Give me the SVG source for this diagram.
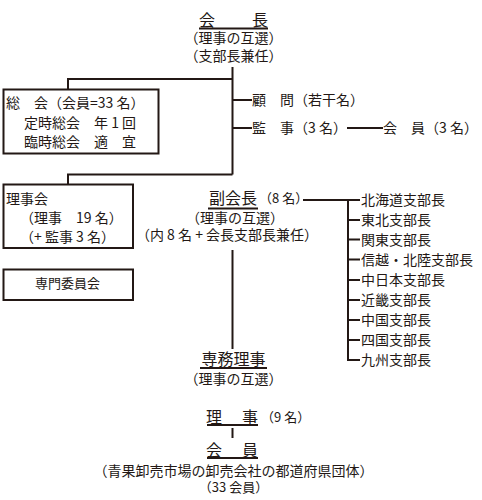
<svg xmlns="http://www.w3.org/2000/svg" width="482" height="500" viewBox="0 0 482 500">
<style>
text{font-family:"Noto Sans CJK JP","Noto Sans",sans-serif;fill:#231815;}
.t13{font-size:13px;}
.t14{font-size:14px;}
.t16{font-size:16px;}
.ln{stroke:#231815;stroke-width:2;fill:none;}
.box{stroke:#231815;stroke-width:2;fill:#fff;}
.mid{text-anchor:middle;}
</style>
<rect width="482" height="500" fill="#fff"/>
<g id="connectors" class="ln">
<path d="M232.5 67V174.5M68 89V79H232.5M232.5 100H252M232.5 128H252M347 128H383M68 184V174.5H232.5"/>
<path d="M232.5 250V349"/>
<path d="M303 200H360M348 200V360H360M348 220H360M348 239.5H360M348 259.5H360M348 280H360M348 300H360M348 320H360M348 340H360"/>
<path d="M232.5 428V438"/>
</g>
<g id="kaicho">
<text class="t16" x="199" y="26">会</text>
<text class="t16" x="252" y="26">長</text>
<path class="ln" d="M199 28.5H268"/>
<text class="t14 mid" x="233.5" y="43">（理事の互選）</text>
<text class="t14 mid" x="233.5" y="61">（支部長兼任）</text>
</g>
<g id="sokai">
<rect class="box" x="3.5" y="89.5" width="155" height="64"/>
<text class="t14" x="6" y="108" xml:space="preserve">総　会（会員=33 名）</text>
<text class="t14" x="24" y="128" xml:space="preserve">定時総会　年 1 回</text>
<text class="t14" x="24" y="147">臨時総会　適　宜</text>
</g>
<g id="komon">
<text class="t14" x="252" y="105">顧　問（若干名）</text>
</g>
<g id="kanji">
<text class="t14" x="252" y="133" xml:space="preserve">監　事（3 名）</text>
</g>
<g id="kaiin-kanji">
<text class="t14" x="383" y="133" xml:space="preserve">会　員（3 名）</text>
</g>
<g id="rijikai">
<rect class="box" x="3.5" y="184.5" width="129.5" height="63.5"/>
<text class="t14" x="6" y="203.5">理事会</text>
<text class="t14" x="20" y="223" xml:space="preserve">（理事　19 名）</text>
<text class="t14" x="20" y="242" xml:space="preserve">（+ 監事 3 名）</text>
</g>
<g id="senmon">
<rect class="box" x="3.5" y="269.5" width="129.5" height="30.5"/>
<text class="t13 mid" x="67.5" y="288">専門委員会</text>
</g>
<g id="fukukaicho">
<text class="t16" x="209" y="204">副会長</text>
<path class="ln" d="M208 208.5H258"/>
<text class="t13" x="259" y="203" xml:space="preserve">（8 名）</text>
<text class="t14 mid" x="235" y="223">（理事の互選）</text>
<text class="t14 mid" x="227" y="240" xml:space="preserve">（内 8 名 + 会長支部長兼任）</text>
</g>
<g id="branches" class="t14">
<text x="361" y="205">北海道支部長</text>
<text x="361" y="225">東北支部長</text>
<text x="361" y="244.5">関東支部長</text>
<text x="361" y="264.5">信越・北陸支部長</text>
<text x="361" y="285">中日本支部長</text>
<text x="361" y="305">近畿支部長</text>
<text x="361" y="325">中国支部長</text>
<text x="361" y="345">四国支部長</text>
<text x="361" y="365">九州支部長</text>
</g>
<g id="senmuriji">
<text class="t16 mid" x="233.5" y="365">専務理事</text>
<path class="ln" d="M200 368H267"/>
<text class="t14 mid" x="233.5" y="384">（理事の互選）</text>
</g>
<g id="riji">
<text class="t16" x="206" y="423">理</text>
<text class="t16" x="242" y="423">事</text>
<path class="ln" d="M207 425H258"/>
<text class="t13" x="261" y="422" xml:space="preserve">（9 名）</text>
</g>
<g id="kaiin">
<text class="t16" x="206" y="456">会</text>
<text class="t16" x="242" y="456">員</text>
<path class="ln" d="M207 458H258"/>
<text class="t14 mid" x="233.5" y="476">（青果卸売市場の卸売会社の都道府県団体）</text>
<text class="t13 mid" x="233.5" y="492" xml:space="preserve">（33 会員）</text>
</g>
</svg>
